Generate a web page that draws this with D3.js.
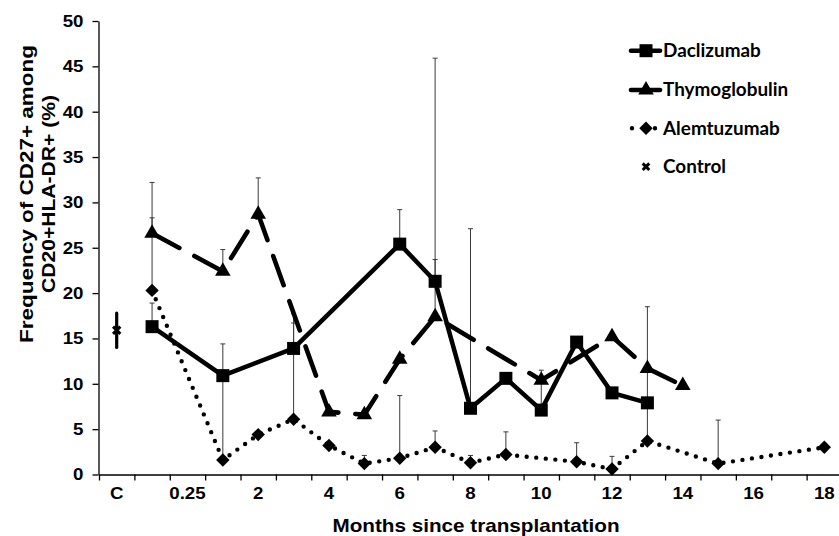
<!DOCTYPE html>
<html>
<head>
<meta charset="utf-8">
<title>Frequency of CD27+ among CD20+HLA-DR+</title>
<style>
  body { margin: 0; background: #fff; }
  svg text { font-family: "Liberation Sans", Arial, sans-serif; font-weight: bold; fill: #000; }
  .legend text { font-family: Lato, "Open Sans", sans-serif; }
</style>
</head>
<body>
<svg width="839" height="536"></svg>
<script src="https://cdn.jsdelivr.net/npm/d3@7"></script>
<script>
// months since transplantation; only every other label is printed on the axis
var categories = ["C", "0", "0.25", "1", "2", "3", "4", "5", "6", "7", "8", "9", "10", "11", "12", "13", "14", "15", "16", "17", "18"];
var yTicks = [0, 5, 10, 15, 20, 25, 30, 35, 40, 45, 50];

var daclizumab    = [null, 16.3, null, 10.9, null, 13.9, null, null, 25.4, 21.3, 7.3, 10.6, 7.1, 14.6, 9.0, 7.9, null, null, null, null, null];
var daclizumabErr = [null, 2.6, null, null, null, 3.8, null, null, 3.8, 24.6, 19.8, null, 4.4, null, null, null, null, null, null, null, null];

var thymoglobulin    = [null, 26.6, null, 22.4, 28.7, null, 6.9, 6.6, 12.7, 17.4, null, null, 10.4, null, 15.2, 11.7, 9.8, null, null, null, null];
var thymoglobulinErr = [null, 5.6, null, 2.4, 4.0, null, null, null, null, 6.3, null, null, null, null, null, null, null, null, null, null, null];

var alemtuzumab    = [null, 20.3, null, 1.6, 4.4, 6.1, 3.2, 1.2, 1.8, 3.0, 1.3, 2.2, null, 1.4, 0.6, 3.7, null, 1.2, null, null, 3.0];
var alemtuzumabErr = [null, 8.0, null, 12.8, null, 10.6, null, 0.9, 6.9, 1.8, 0.8, 2.5, null, 2.1, 1.4, 14.8, null, 4.8, null, null, null];

var control    = [15.9, null, null, null, null, null, null, null, null, null, null, null, null, null, null, null, null, null, null, null, null];
var controlErr = [1.9, null, null, null, null, null, null, null, null, null, null, null, null, null, null, null, null, null, null, null, null];

var svg = d3.select("svg");

function stretch(sel, k) {
  sel.each(function() {
    var w = this.getComputedTextLength();
    this.setAttribute("textLength", w * k);
    this.setAttribute("lengthAdjust", "spacingAndGlyphs");
  });
}

var x = d3.scaleBand().domain(categories).range([99, 842]);
var xEdge = d3.scaleLinear().domain([0, categories.length]).range([99, 842]);
var y = d3.scaleLinear().domain([0, 50]).range([474.5, 21]);
var cx = function(c) { return x(c) + x.bandwidth() / 2; };

function points(vals, errs) {
  return vals.map(function(v, i) { return { c: categories[i], v: v, e: errs ? errs[i] : null }; })
    .filter(function(d) { return d.v != null; });
}

// axes
var yAxis = svg.append("g")
    .attr("transform", "translate(98.5,0)")
    .call(d3.axisLeft(y).tickValues(yTicks).tickSize(6).tickSizeOuter(0).tickPadding(9));
yAxis.selectAll("text").style("font-size", "17px").style("font-family", null).call(stretch, 1.1);

svg.append("g")
    .attr("transform", "translate(0,474.5)")
    .call(d3.axisBottom(xEdge).tickValues(d3.range(0, categories.length + 1)).tickSize(6).tickSizeOuter(0).tickFormat(""));

var xLabels = svg.append("g")
    .attr("transform", "translate(0,474.5)")
    .call(d3.axisBottom(x).tickSize(0).tickPadding(12)
      .tickFormat(function(d, i) { return i % 2 === 0 ? d : ""; }));
xLabels.select(".domain").remove();
xLabels.selectAll("text").style("font-size", "17px").style("font-family", null).call(stretch, 1.1);

svg.selectAll(".domain, .tick line").attr("stroke", "#000").attr("stroke-width", 1.3);

svg.append("text")
    .attr("x", 476).attr("y", 532)
    .attr("text-anchor", "middle")
    .style("font-size", "18.5px")
    .attr("textLength", 287).attr("lengthAdjust", "spacingAndGlyphs")
    .text("Months since transplantation");

svg.append("text")
    .attr("transform", "translate(33,194) rotate(-90)")
    .attr("text-anchor", "middle")
    .style("font-size", "19px")
    .attr("textLength", 298).attr("lengthAdjust", "spacingAndGlyphs")
    .text("Frequency of CD27+ among");
svg.append("text")
    .attr("transform", "translate(55,194) rotate(-90)")
    .attr("text-anchor", "middle")
    .style("font-size", "19px")
    .attr("textLength", 198).attr("lengthAdjust", "spacingAndGlyphs")
    .text("CD20+HLA-DR+  (%)");

// series
var series = [
  { name: "Daclizumab", vals: daclizumab, errs: daclizumabErr, dash: null, width: 4.5,
    symbol: d3.symbol(d3.symbolSquare, 169), rot: 0 },
  { name: "Thymoglobulin", vals: thymoglobulin, errs: thymoglobulinErr, dash: "31,17", width: 4.6,
    symbol: d3.symbol(d3.symbolTriangle, 105), rot: 0 },
  { name: "Alemtuzumab", vals: alemtuzumab, errs: alemtuzumabErr, dash: "0,9.6", width: 4.4,
    symbol: d3.symbol(d3.symbolSquare, 90), rot: 45 }
];

var line = d3.line()
    .x(function(d) { return cx(d.c); })
    .y(function(d) { return y(d.v); });

var plot = svg.append("g");

// error bars (plus direction only)
series.forEach(function(s) {
  var eb = points(s.vals, s.errs).filter(function(d) { return d.e != null; });
  var g = plot.append("g").attr("stroke", "#3a3a3a").attr("stroke-width", 1);
  g.selectAll("line.bar").data(eb).enter().append("line")
      .attr("x1", function(d) { return cx(d.c); }).attr("x2", function(d) { return cx(d.c); })
      .attr("y1", function(d) { return y(d.v); }).attr("y2", function(d) { return y(d.v + d.e); });
  g.selectAll("line.cap").data(eb).enter().append("line")
      .attr("x1", function(d) { return cx(d.c) - 2.5; }).attr("x2", function(d) { return cx(d.c) + 2.5; })
      .attr("y1", function(d) { return y(d.v + d.e); }).attr("y2", function(d) { return y(d.v + d.e); });
});

series.forEach(function(s) {
  plot.append("path")
      .datum(points(s.vals))
      .attr("d", line)
      .attr("fill", "none")
      .attr("stroke", "#000")
      .attr("stroke-width", s.width)
      .attr("stroke-linecap", "round")
      .attr("stroke-linejoin", "round")
      .attr("stroke-dasharray", s.dash);
});

series.forEach(function(s) {
  plot.selectAll(null)
      .data(points(s.vals))
      .enter().append("path")
      .attr("transform", function(d) { return "translate(" + cx(d.c) + "," + y(d.v) + ") rotate(" + s.rot + ")"; })
      .attr("d", s.symbol)
      .attr("fill", "#000");
});

// control
var ctrl = points(control, controlErr);
var cg = plot.append("g");
cg.selectAll("line").data(ctrl).enter().append("line")
    .attr("x1", function(d) { return cx(d.c); }).attr("x2", function(d) { return cx(d.c); })
    .attr("y1", function(d) { return y(d.v - d.e); }).attr("y2", function(d) { return y(d.v + d.e); })
    .attr("stroke", "#000").attr("stroke-width", 3.2).attr("stroke-linecap", "round");
cg.selectAll("path").data(ctrl).enter().append("path")
    .attr("transform", function(d) { return "translate(" + cx(d.c) + "," + y(d.v) + ")"; })
    .attr("d", d3.symbol(d3.symbolX, 36))
    .attr("fill", "none").attr("stroke", "#000").attr("stroke-width", 3);

// legend
var legend = svg.append("g").attr("class", "legend");
var rows = [50.7, 90, 128.3, 166.7];
series.forEach(function(s, i) {
  var r = legend.append("g").attr("transform", "translate(0," + rows[i] + ")");
  if (i === 2) {
    r.append("line").attr("x1", 632).attr("x2", 656).attr("y1", 0).attr("y2", 0)
        .attr("stroke", "#000").attr("stroke-width", 4.4).attr("stroke-linecap", "round")
        .attr("stroke-dasharray", "0,11.5");
  } else {
    r.append("line").attr("x1", 631).attr("x2", 660).attr("y1", 0).attr("y2", 0)
        .attr("stroke", "#000").attr("stroke-width", 4.6).attr("stroke-linecap", "round");
  }
  r.append("path").attr("transform", "translate(646,0) rotate(" + s.rot + ")").attr("d", s.symbol).attr("fill", "#000");
  r.append("text").attr("x", 663).attr("dy", "0.36em").style("font-size", "18px").text(s.name);
});
var rc = legend.append("g").attr("transform", "translate(0," + rows[3] + ")");
rc.append("path").attr("transform", "translate(646,0)").attr("d", d3.symbol(d3.symbolX, 30))
    .attr("fill", "none").attr("stroke", "#000").attr("stroke-width", 3);
rc.append("text").attr("x", 663).attr("dy", "0.36em").style("font-size", "18px").text("Control");
legend.selectAll("text").call(stretch, 1.05);
</script>
</body>
</html>
